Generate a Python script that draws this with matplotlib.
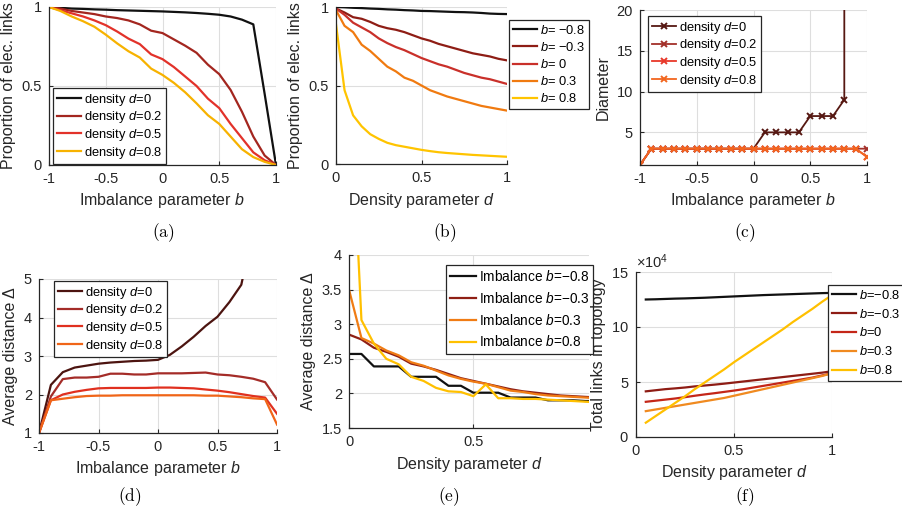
import matplotlib
matplotlib.use("Agg")
import matplotlib.pyplot as plt
import numpy as np

plt.rcParams['font.family'] = ['Liberation Sans', 'DejaVu Sans']
plt.rcParams['mathtext.fontset'] = 'custom'
plt.rcParams['mathtext.rm'] = 'Liberation Sans'
plt.rcParams['mathtext.it'] = 'Liberation Sans:italic'
plt.rcParams['axes.unicode_minus'] = False

# ---------------- data ----------------
b_axis = [-1, -0.9, -0.8, -0.7, -0.6, -0.5, -0.4, -0.3, -0.2, -0.1, 0,
          0.1, 0.2, 0.3, 0.4, 0.5, 0.6, 0.7, 0.8, 0.9, 1]
d_axis = [0, 0.05, 0.1, 0.15, 0.2, 0.25, 0.3, 0.35, 0.4, 0.45, 0.5,
          0.55, 0.6, 0.65, 0.7, 0.75, 0.8, 0.85, 0.9, 0.95, 1]
d_axis_f = d_axis[1:]

# (a) proportion of elec. links vs imbalance b
prop_b_d0 = [1, 0.995, 0.99, 0.988, 0.985, 0.983, 0.98, 0.978, 0.976, 0.974, 0.972,
             0.969, 0.966, 0.962, 0.957, 0.951, 0.94, 0.92, 0.89, 0.45, 0]
prop_b_d02 = [1, 0.99, 0.975, 0.965, 0.955, 0.94, 0.93, 0.915, 0.89, 0.85, 0.835,
              0.795, 0.755, 0.71, 0.635, 0.575, 0.475, 0.337, 0.18, 0.06, 0]
prop_b_d05 = [1, 0.98, 0.96, 0.94, 0.915, 0.885, 0.845, 0.8, 0.765, 0.7, 0.67,
              0.62, 0.56, 0.5, 0.42, 0.36, 0.26, 0.17, 0.08, 0.03, 0]
prop_b_d08 = [1, 0.975, 0.94, 0.91, 0.875, 0.825, 0.77, 0.72, 0.68, 0.61, 0.57,
              0.52, 0.46, 0.39, 0.315, 0.26, 0.18, 0.1, 0.05, 0.02, 0]

# (b) proportion of elec. links vs density d
prop_d_bm08 = [1.0, 0.998, 0.995, 0.993, 0.99, 0.988, 0.985, 0.983, 0.98, 0.978, 0.975,
               0.974, 0.972, 0.97, 0.968, 0.967, 0.965, 0.962, 0.958, 0.956, 0.955]
prop_d_bm03 = [0.99, 0.965, 0.935, 0.925, 0.905, 0.88, 0.865, 0.855, 0.84, 0.82, 0.8,
               0.785, 0.765, 0.75, 0.735, 0.72, 0.705, 0.695, 0.685, 0.67, 0.66]
prop_d_b0 = [0.99, 0.95, 0.9, 0.87, 0.84, 0.8, 0.77, 0.745, 0.725, 0.7, 0.675,
             0.655, 0.635, 0.62, 0.6, 0.58, 0.565, 0.55, 0.54, 0.525, 0.51]
prop_d_b03 = [0.98, 0.88, 0.84, 0.76, 0.72, 0.67, 0.62, 0.59, 0.55, 0.53, 0.5,
              0.47, 0.45, 0.43, 0.415, 0.4, 0.385, 0.37, 0.36, 0.35, 0.34]
prop_d_b08 = [0.89, 0.47, 0.31, 0.24, 0.19, 0.16, 0.135, 0.12, 0.11, 0.1, 0.09,
              0.082, 0.075, 0.07, 0.066, 0.062, 0.058, 0.055, 0.052, 0.049, 0.046]

# (c) diameter vs imbalance b
diam_d0 = [1, 3, 3, 3, 3, 3, 3, 3, 3, 3, 3, 5, 5, 5, 5, 7, 7, 7, 9, 1e4, 1e4]
diam_d02 = [1, 3, 3, 3, 3, 3, 3, 3, 3, 3, 3, 3, 3, 3, 3, 3, 3, 3, 3, 3, 3]
diam_d05 = [1, 3, 3, 3, 3, 3, 3, 3, 3, 3, 3, 3, 3, 3, 3, 3, 3, 3, 3, 3, 2]
diam_d08 = [1, 3, 3, 3, 3, 3, 3, 3, 3, 3, 3, 3, 3, 3, 3, 3, 3, 3, 3, 3, 2]

# (d) average distance vs imbalance b
dist_b_d0 = [1, 2.25, 2.58, 2.7, 2.75, 2.8, 2.83, 2.85, 2.87, 2.88, 2.9,
             3.03, 3.25, 3.5, 3.78, 4.02, 4.4, 4.85, 6.3, 8.5, 12]
dist_b_d02 = [1, 1.95, 2.4, 2.44, 2.44, 2.46, 2.54, 2.54, 2.52, 2.52, 2.55,
              2.55, 2.55, 2.56, 2.57, 2.52, 2.5, 2.46, 2.41, 2.32, 1.87]
dist_b_d05 = [1, 1.85, 2.0, 2.07, 2.12, 2.16, 2.17, 2.17, 2.17, 2.17, 2.18,
              2.18, 2.17, 2.16, 2.13, 2.1, 2.06, 2.01, 1.96, 1.92, 1.5]
dist_b_d08 = [1, 1.85, 1.89, 1.93, 1.96, 1.97, 1.97, 1.98, 1.98, 1.98, 1.98,
              1.98, 1.98, 1.98, 1.97, 1.97, 1.95, 1.93, 1.9, 1.88, 1.22]

# (e) average distance vs density d
dist_d_bm08 = [2.57, 2.57, 2.39, 2.39, 2.39, 2.24, 2.24, 2.24, 2.11, 2.11, 2.01,
               2.01, 2.01, 1.94, 1.94, 1.94, 1.9, 1.9, 1.9, 1.89, 1.89]
dist_d_bm03 = [2.85, 2.78, 2.66, 2.6, 2.53, 2.43, 2.39, 2.34, 2.28, 2.22, 2.18,
               2.14, 2.1, 2.06, 2.03, 2.01, 1.99, 1.97, 1.96, 1.95, 1.94]
dist_d_b03 = [3.5, 2.8, 2.72, 2.62, 2.55, 2.45, 2.4, 2.33, 2.26, 2.21, 2.17,
              2.14, 2.09, 2.04, 2.02, 1.99, 1.97, 1.96, 1.95, 1.94, 1.93]
dist_d_b08 = [6.8, 3.06, 2.72, 2.5, 2.42, 2.24, 2.18, 2.08, 2.03, 2.02, 1.96,
              2.13, 1.93, 1.93, 1.92, 1.92, 1.91, 1.9, 1.89, 1.88, 1.87]

# (f) total links in topology vs density d
links_bm08 = [125000, 125200, 125500, 125800, 126000, 126300, 126600, 127000, 127400, 127800,
              128200, 128600, 129000, 129300, 129600, 129900, 130200, 130500, 130800, 131000]
links_bm03 = [41500, 42500, 43500, 44200, 45000, 46000, 46800, 47600, 48500, 49500,
              50500, 51500, 52500, 53500, 54500, 55500, 56500, 57500, 58500, 59800]
links_b0 = [32000, 33000, 34000, 35000, 36200, 37500, 38700, 39800, 41000, 42200,
            43500, 45000, 46500, 48000, 49500, 51000, 52500, 54000, 56000, 58000]
links_b03 = [23500, 25000, 26500, 28000, 29500, 31000, 32500, 34000, 35500, 37500,
             39500, 41500, 43500, 45500, 47500, 49500, 51500, 53500, 55500, 58000]
links_b08 = [13000, 19000, 25000, 31000, 37000, 43500, 49500, 55500, 61500, 68000,
             74000, 80000, 86000, 92000, 98000, 104500, 110500, 116500, 123000, 129000]

# ---------------- figure ----------------
W, H = 902, 518
fig = plt.figure(figsize=(W / 100, H / 100), dpi=100)

BLACK = '#111111'
TXT = '#262626'


def lab(var, val, prefix='', gap=False):
    # italic "var=val" without the wide relation spacing of mathtext
    sp = r'\ ' if gap else ''
    return prefix + r'$\mathit{%s}\hspace{-0.2}=\hspace{-0.2}%s\mathit{%s}$' % (var, sp, val)


def axes_px(l, t, r, b):
    ax = fig.add_axes([l / W, 1 - b / H, (r - l) / W, (b - t) / H])
    ax.grid(True, color='#dedede', lw=0.8)
    ax.set_axisbelow(True)
    for s in ['top', 'right']:
        ax.spines[s].set_visible(False)
    for s in ['left', 'bottom']:
        ax.spines[s].set_color(TXT)
        ax.spines[s].set_linewidth(0.9)
    ax.tick_params(direction='in', length=3, width=0.8, color=TXT,
                   labelsize=10.5, pad=5, labelcolor=TXT)
    return ax


def legend_px(ax, l, t, fs=9.3, spacing=0.12):
    leg = ax.legend(loc='upper left', bbox_to_anchor=(l / W, 1 - t / H),
                    bbox_transform=fig.transFigure, fontsize=fs, fancybox=False,
                    framealpha=1, edgecolor=TXT, borderpad=0.3,
                    handlelength=1.9, handletextpad=0.2, labelspacing=spacing,
                    borderaxespad=0)
    leg.get_frame().set_linewidth(0.9)
    return leg


def caption(x, y, s):
    fig.text(x / W, 1 - y / H, r'$\mathrm{(%s)}$' % s, math_fontfamily='cm',
             fontsize=12.5, ha='center', va='center')


lw = 1.6

# (a)
ax = axes_px(49, 7, 276, 165)
ax.plot(b_axis, prop_b_d0, color=BLACK, lw=lw, label=lab('d', '0', 'density '))
ax.plot(b_axis, prop_b_d02, color='#a3261f', lw=lw, label=lab('d', '0.2', 'density '))
ax.plot(b_axis, prop_b_d05, color='#e2322a', lw=lw, label=lab('d', '0.5', 'density '))
ax.plot(b_axis, prop_b_d08, color='#f7b200', lw=lw, label=lab('d', '0.8', 'density '))
ax.set_xlim(-1, 1)
ax.set_ylim(0, 1)
ax.set_xticks([-1, -0.5, 0, 0.5, 1])
ax.set_yticks([0, 0.5, 1])
ax.set_xticklabels(['-1', '-0.5', '0', '0.5', '1'])
ax.set_yticklabels(['0', '0.5', '1'])
ax.set_xlabel(r'Imbalance parameter $\mathit{b}$', fontsize=11.5, color=TXT)
ax.set_ylabel('Proportion of elec. links', fontsize=11.5, color=TXT)
legend_px(ax, 53, 88)
caption(163, 233, 'a')

# (b)
ax = axes_px(336, 7, 507, 164)
ax.plot(d_axis, prop_d_bm08, color=BLACK, lw=lw, label=lab('b', '-0.8', gap=True))
ax.plot(d_axis, prop_d_bm03, color='#8e1d15', lw=lw, label=lab('b', '-0.3', gap=True))
ax.plot(d_axis, prop_d_b0, color='#c9302a', lw=lw, label=lab('b', '0', gap=True))
ax.plot(d_axis, prop_d_b03, color='#f07a10', lw=lw, label=lab('b', '0.3', gap=True))
ax.plot(d_axis, prop_d_b08, color='#ffc400', lw=lw, label=lab('b', '0.8', gap=True))
ax.set_xlim(0, 1)
ax.set_ylim(0, 1)
ax.set_xticks([0, 0.5, 1])
ax.set_yticks([0, 0.5, 1])
ax.set_xticklabels(['0', '0.5', '1'])
ax.set_yticklabels(['0', '0.5', '1'])
ax.set_xlabel(r'Density parameter $\mathit{d}$', fontsize=11.5, color=TXT)
ax.set_ylabel('Proportion of elec. links', fontsize=11.5, color=TXT)
legend_px(ax, 509, 20, spacing=0.32)
caption(445, 233, 'b')

# (c)
ax = axes_px(640, 10, 867, 165)
mk = dict(marker='x', ms=5, mew=1.4, lw=1.3)
ax.plot(b_axis, diam_d0, color='#561812', label=lab('d', '0', 'density '), **mk)
ax.plot(b_axis, diam_d02, color='#a3302a', label=lab('d', '0.2', 'density '), **mk)
ax.plot(b_axis, diam_d05, color='#e8382a', label=lab('d', '0.5', 'density '), **mk)
ax.plot(b_axis, diam_d08, color='#f2661f', label=lab('d', '0.8', 'density '), **mk)
ax.set_xlim(-1, 1)
ax.set_ylim(1, 20)
ax.set_xticks([-1, -0.5, 0, 0.5, 1])
ax.set_yticks([5, 10, 15, 20])
ax.set_xticklabels(['-1', '-0.5', '0', '0.5', '1'])
ax.set_xlabel(r'Imbalance parameter $\mathit{b}$', fontsize=11.5, color=TXT)
ax.set_ylabel('Diameter', fontsize=11.5, color=TXT)
legend_px(ax, 648, 16)
caption(745, 233, 'c')

# (d)
ax = axes_px(39, 279, 277, 433)
ax.plot(b_axis, dist_b_d0, color='#4c1410', lw=lw, label=lab('d', '0', 'density '))
ax.plot(b_axis, dist_b_d02, color='#a42c28', lw=lw, label=lab('d', '0.2', 'density '))
ax.plot(b_axis, dist_b_d05, color='#e0301f', lw=lw, label=lab('d', '0.5', 'density '))
ax.plot(b_axis, dist_b_d08, color='#f06518', lw=lw, label=lab('d', '0.8', 'density '))
ax.set_xlim(-1, 1)
ax.set_ylim(1, 5)
ax.set_xticks([-1, -0.5, 0, 0.5, 1])
ax.set_yticks([1, 2, 3, 4, 5])
ax.set_xticklabels(['-1', '-0.5', '0', '0.5', '1'])
ax.set_xlabel(r'Imbalance parameter $\mathit{b}$', fontsize=11.5, color=TXT)
ax.set_ylabel('Average distance Δ', fontsize=11.5, color=TXT)
legend_px(ax, 54, 281)
caption(130, 497, 'd')

# (e)
ax = axes_px(349, 255, 589, 428)
ax.plot(d_axis, dist_d_bm08, color=BLACK, lw=lw, label=lab('b', '-0.8', 'Imbalance '))
ax.plot(d_axis, dist_d_bm03, color='#8f1f14', lw=lw, label=lab('b', '-0.3', 'Imbalance '))
ax.plot(d_axis, dist_d_b03, color='#f07c14', lw=lw, label=lab('b', '0.3', 'Imbalance '))
ax.plot(d_axis, dist_d_b08, color='#ffc000', lw=lw, label=lab('b', '0.8', 'Imbalance '))
ax.set_xlim(0, 0.965)
ax.set_ylim(1.5, 4)
ax.set_xticks([0, 0.5])
ax.set_yticks([1.5, 2, 2.5, 3, 3.5, 4])
ax.set_xticklabels(['0', '0.5'])
ax.set_yticklabels(['1.5', '2', '2.5', '3', '3.5', '4'])
ax.set_xlabel(r'Density parameter $\mathit{d}$', fontsize=11.5, color=TXT)
ax.set_ylabel('Average distance Δ', fontsize=11.5, color=TXT)
legend_px(ax, 446, 265, fs=9.8, spacing=0.5)
caption(449, 497, 'e')

# (f)
ax = axes_px(636, 272, 832, 437)
ax.plot(d_axis_f, links_bm08, color=BLACK, lw=lw, label=lab('b', '-0.8'))
ax.plot(d_axis_f, links_bm03, color='#8e1c14', lw=lw, label=lab('b', '-0.3'))
ax.plot(d_axis_f, links_b0, color='#c42618', lw=lw, label=lab('b', '0'))
ax.plot(d_axis_f, links_b03, color='#f08a20', lw=lw, label=lab('b', '0.3'))
ax.plot(d_axis_f, links_b08, color='#ffc000', lw=lw, label=lab('b', '0.8'))
ax.set_xlim(0, 1)
ax.set_ylim(0, 150000)
ax.set_xticks([0, 0.5, 1])
ax.set_yticks([0, 50000, 100000, 150000])
ax.set_xticklabels(['0', '0.5', '1'])
ax.ticklabel_format(axis='y', style='sci', scilimits=(4, 4), useMathText=True)
ax.yaxis.get_offset_text().set_fontsize(10.5)
ax.set_xlabel(r'Density parameter $\mathit{d}$', fontsize=11.5, color=TXT)
ax.set_ylabel('Total links in topology', fontsize=11.5, color=TXT)
legend_px(ax, 828, 285, spacing=0.45)
caption(745, 497, 'f')

fig.savefig('out.png', dpi=100)
